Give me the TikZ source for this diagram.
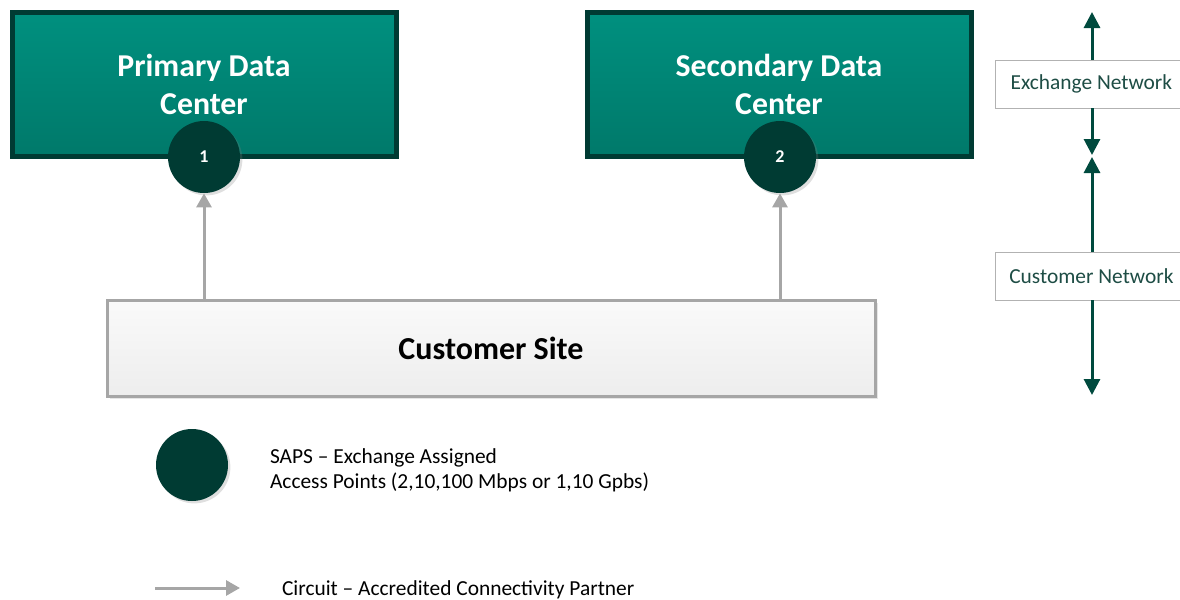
\documentclass[tikz,border=0pt]{standalone}
\usepackage{fontspec}
\setmainfont{Carlito}
\usepackage{tikz}
\usetikzlibrary{shadows,arrows.meta,shapes,positioning,calc}

\definecolor{dcdark}{HTML}{003B33}
\definecolor{dctop}{HTML}{00907F}
\definecolor{dcbot}{HTML}{00796A}
\definecolor{netgreen}{HTML}{004A3E}
\definecolor{nettext}{HTML}{1E4D45}
\definecolor{circgray}{HTML}{A6A6A6}

\tikzset{
  datacenter/.style={rectangle, draw=dcdark, line width=2.5pt, top color=dctop, bottom color=dcbot,
    minimum width=192pt, minimum height=72pt, text=white, font=\fontsize{15.9}{19}\selectfont\bfseries,
    align=center, drop shadow={opacity=0.25, shadow xshift=1.5pt, shadow yshift=-1.5pt}},
  sap/.style={circle, fill=dcdark, minimum size=36pt, inner sep=0pt, text=white,
    font=\fontsize{9}{11}\selectfont\bfseries,
    drop shadow={opacity=0.25, shadow xshift=1.2pt, shadow yshift=-1.2pt}},
  sitebox/.style={rectangle, draw=circgray, line width=1.5pt, top color=white!98!black, bottom color=white!93!black,
    minimum width=384pt, minimum height=48pt, font=\fontsize{16}{19}\selectfont\bfseries,
    drop shadow={opacity=0.2, shadow xshift=1.5pt, shadow yshift=-1.5pt}},
  netbox/.style={rectangle, draw=black!30, line width=0.4pt, fill=white, text=nettext,
    minimum width=96pt, minimum height=24pt, font=\fontsize{10.7}{13}\selectfont},
  circuit/.style={draw=circgray, line width=1.5pt, -{Triangle[length=7pt,width=7.5pt]}},
  netarrow/.style={draw=netgreen, line width=1.5pt, -{Triangle[length=8pt,width=8pt]}},
  legendtext/.style={font=\fontsize{10.7}{12.5}\selectfont, align=left, anchor=west}
}

\begin{document}
\begin{tikzpicture}[x=0.5pt,y=-0.5pt]

  % Page size
  \useasboundingbox (0,0) rectangle (1180,600);

  % Data centers
  \node[datacenter] (primary) at (204,84) {Primary Data\\Center};
  \node[datacenter] (secondary) at (779,84) {Secondary Data\\Center};

  % Access points
  \node[sap] (sap1) at (204,157) {1};
  \node[sap] (sap2) at (780,157) {2};

  % Customer site
  \node[sitebox] (site) at (491,348) {Customer Site};

  % Circuits
  \draw[circuit] (sap1 |- site.north) -- (sap1.south);
  \draw[circuit] (sap2 |- site.north) -- (sap2.south);

  % Network boundaries
  \node[netbox, anchor=west] (exnet) at (995,84) {Exchange Network};
  \node[netbox, anchor=west] (cunet) at (995,276) {Customer Network};
  \coordinate (extop) at (1092,12);
  \coordinate (exbot) at (1092,155);
  \coordinate (cutop) at (1092,157);
  \coordinate (cubot) at (1092,395);
  \draw[netarrow] (exnet.north -| extop) -- (extop);
  \draw[netarrow] (exnet.south -| exbot) -- (exbot);
  \draw[netarrow] (cunet.north -| cutop) -- (cutop);
  \draw[netarrow] (cunet.south -| cubot) -- (cubot);

  % Legend
  \node[sap] (legsap) at (192,465) {};
  \node[legendtext] (legsaptext) at (263,470) {SAPS -- Exchange Assigned\\Access Points (2,10,100 Mbps or 1,10 Gpbs)};
  \coordinate (legstart) at (155,588);
  \coordinate (legend) at (240,588);
  \draw[circuit] (legstart) -- (legend);
  \node[legendtext] (legcircuit) at (275,590) {Circuit -- Accredited Connectivity Partner};

\end{tikzpicture}
\end{document}
